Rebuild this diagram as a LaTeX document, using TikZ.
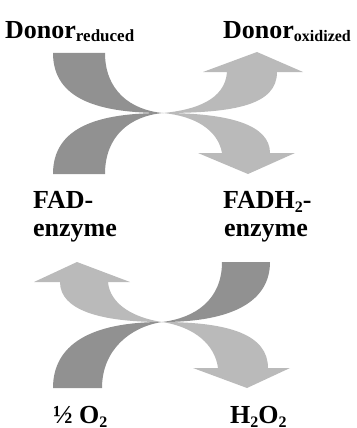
\documentclass[tikz,border=0pt]{standalone}
\usepackage{fontspec}
\setmainfont{Liberation Serif}
\usetikzlibrary{positioning}
\newcommand{\subtxt}[2][-4pt]{\raisebox{#1}{\fontsize{16}{17}\selectfont #2}}
\tikzstyle{lbl}       = [inner sep=0pt, anchor=base west, font=\fontsize{26}{28}\selectfont\bfseries]
\tikzstyle{darkband}  = [fill=black!43, draw=none]
\tikzstyle{lightband} = [fill=black!27, draw=none]

\begin{document}
\begin{tikzpicture}[x=1pt, y=-1pt]
	\useasboundingbox (0,0) rectangle (356,428);
	% Crossing points %
	\coordinate (ctop) at (163,113);
	\coordinate (cbot) at (162,322);
	% Upper exchange %
	\fill [darkband] (ctop) .. controls (100,113) and (53,100) .. (53,53) -- (105,53)
		.. controls (105,90) and (130,110) .. (ctop);
	\fill [darkband] (ctop) .. controls (100,113) and (53,126) .. (53,174) -- (105,174)
		.. controls (105,136) and (130,116) .. (ctop);
	\fill [lightband] (ctop) .. controls (235,113) and (277,105) .. (277,72) -- (303,72)
		-- (257,52) -- (203,72) -- (227,72) .. controls (225,100) and (195,110) .. (ctop);
	\fill [lightband] (ctop) .. controls (230,113) and (270,125) .. (270,153) -- (295,153)
		-- (248,174) -- (198,153) -- (222,153) .. controls (218,130) and (195,116) .. (ctop);
	% Lower exchange %
	\fill [darkband] (cbot) .. controls (235,322) and (270,300) .. (270,262) -- (222,262)
		.. controls (222,300) and (195,318) .. (cbot);
	\fill [darkband] (cbot) .. controls (90,322) and (53,345) .. (53,388) -- (102,388)
		.. controls (102,350) and (130,327) .. (cbot);
	\fill [lightband] (cbot) .. controls (100,322) and (60,310) .. (60,282) -- (34,282)
		-- (77,262) -- (130,282) -- (108,282) .. controls (110,305) and (135,318) .. (cbot);
	\fill [lightband] (cbot) .. controls (230,322) and (268,335) .. (268,368) -- (290,368)
		-- (247,388) -- (193,368) -- (218,368) .. controls (215,345) and (195,327) .. (cbot);
	% Labels %
	\node [lbl] (donred) at (5,39) {Donor\subtxt[-2pt]{\fontsize{17}{18}\selectfont reduced}};
	\node [lbl] (donox) at (223,39) {Donor\subtxt[-2pt]{oxidized}};
	\node [lbl] (fad) at (33,208) {FAD-};
	\node [lbl] (fadenz) at (33,236) {enzyme};
	\node [lbl] (fadh) at (223,208) {FADH\subtxt{2}-};
	\node [lbl] (fadhenz) at (224,236) {enzyme};
	\node [lbl] (oxy) at (53,423) {½ O\subtxt{2}};
	\node [lbl] (perox) at (230,423) {H\subtxt{2}O\subtxt{2}};
\end{tikzpicture}
\end{document}
